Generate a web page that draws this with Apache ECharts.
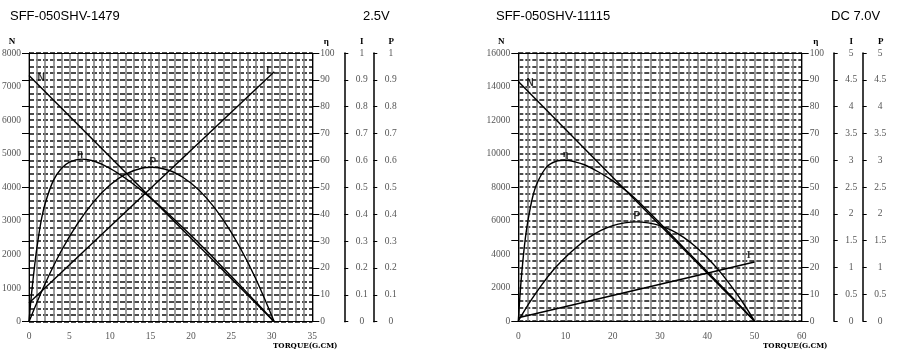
<!DOCTYPE html>
<html><head><meta charset="utf-8">
<script src="https://cdn.jsdelivr.net/npm/echarts@6/dist/echarts.min.js"></script>
<style>html,body{margin:0;padding:0;background:#fff}#c{width:900px;height:355px}</style>
</head><body><div id="c"></div>
<script>
// ---------- Left chart: SFF-050SHV-1479 @ 2.5V ----------
const leftModel = 'SFF-050SHV-1479';
const leftVoltage = '2.5V';
const leftTorqueLabels = [0, 5, 10, 15, 20, 25, 30, 35];
const leftSpeedLabels = [0, 1000, 2000, 3000, 4000, 5000, 6000, 7000, 8000];
const leftCurrentLabels = [0, 0.1, 0.2, 0.3, 0.4, 0.5, 0.6, 0.7, 0.8, 0.9, 1];
const leftPowerLabels = [0, 0.1, 0.2, 0.3, 0.4, 0.5, 0.6, 0.7, 0.8, 0.9, 1];
const leftSpeedTorque = [0, 30.3];
const leftSpeed = [7330, 0];
const leftCurrentTorque = [0, 30.3];
const leftCurrent = [0.07, 0.93];
const leftEffTorque = [0, 0.3, 0.7, 1, 1.5, 2, 3, 4, 5, 6.5, 8, 10, 12, 14, 16, 18, 20, 22, 24, 26, 28, 30.3];
const leftEff = [0, 10, 21, 28, 37.5, 44, 52.5, 57, 59.4, 60.5, 59.8, 57.1, 53.2, 48.6, 43.5, 37.9, 32.2, 26.2, 20.0, 13.8, 7.4, 0];
const leftPowerTorque = [0, 2, 4, 6, 8, 10, 12, 14, 15.2, 16, 18, 20, 22, 24, 26, 28, 30.3];
const leftPower = [0, 0.142, 0.264, 0.365, 0.447, 0.509, 0.550, 0.572, 0.575, 0.573, 0.555, 0.516, 0.458, 0.379, 0.280, 0.161, 0];

// ---------- Right chart: SFF-050SHV-11115 @ DC 7.0V ----------
const rightModel = 'SFF-050SHV-11115';
const rightVoltage = 'DC 7.0V';
const rightTorqueLabels = [0, 10, 20, 30, 40, 50, 60];
const rightSpeedLabels = [0, 2000, 4000, 6000, 8000, 10000, 12000, 14000, 16000];
const rightCurrentLabels = [0, 0.5, 1, 1.5, 2, 2.5, 3, 3.5, 4, 4.5, 5];
const rightPowerLabels = [0, 0.5, 1, 1.5, 2, 2.5, 3, 3.5, 4, 4.5, 5];
const rightSpeedTorque = [0, 50];
const rightSpeed = [14300, 0];
const rightCurrentTorque = [0, 50];
const rightCurrent = [0.06, 1.1];
const rightEffTorque = [0, 0.5, 1, 1.5, 2, 3, 4, 6, 8, 10, 12, 14, 17, 20, 23, 26, 30, 34, 38, 42, 46, 50];
const rightEff = [0, 13, 23, 31, 37, 46, 51.5, 57.5, 59.6, 60, 59.4, 58.3, 55.6, 52.3, 48.4, 43.6, 36.5, 29.2, 22.0, 14.8, 7.5, 0];
const rightPowerTorque = [0, 2.5, 5, 7.5, 10, 12.5, 15, 17.5, 20, 22.5, 25, 27.5, 30, 32.5, 35, 37.5, 40, 42.5, 45, 47.5, 50];
const rightPower = [0, 0.36, 0.68, 0.96, 1.19, 1.39, 1.56, 1.69, 1.78, 1.83, 1.85, 1.83, 1.78, 1.69, 1.56, 1.39, 1.18, 0.94, 0.66, 0.35, 0];

// shared
const effLabels = [0, 10, 20, 30, 40, 50, 60, 70, 80, 90, 100];
const xAxisTitle = 'TORQUE(G.CM)';

const SERIF = '"Liberation Serif", "DejaVu Serif", serif';
const SANS = '"Liberation Sans", Arial, sans-serif';
const zip = (a, b) => a.map((v, i) => [v, b[i]]);
const step = arr => arr[1] - arr[0];
const last = arr => arr[arr.length - 1];

const panels = [
  {
    model: leftModel, voltage: leftVoltage,
    tLabels: leftTorqueLabels, tGrid: 1,
    nLabels: leftSpeedLabels, iLabels: leftCurrentLabels, pLabels: leftPowerLabels,
    speed: zip(leftSpeedTorque, leftSpeed), current: zip(leftCurrentTorque, leftCurrent),
    eff: zip(leftEffTorque, leftEff), power: zip(leftPowerTorque, leftPower),
    tags: { N: [1.5, 7255], eta: [6.3, 62.8], P: [15.3, 0.595], I: [29.5, 0.936] },
    L: { left: 29, top: 53, width: 283.3, height: 268.7, titleX: 10, voltX: 363, axisTitleX: 273 }
  },
  {
    model: rightModel, voltage: rightVoltage,
    tLabels: rightTorqueLabels, tGrid: 2,
    nLabels: rightSpeedLabels, iLabels: rightCurrentLabels, pLabels: rightPowerLabels,
    speed: zip(rightSpeedTorque, rightSpeed), current: zip(rightCurrentTorque, rightCurrent),
    eff: zip(rightEffTorque, rightEff), power: zip(rightPowerTorque, rightPower),
    tags: { N: [2.5, 14175], eta: [10.0, 62.2], P: [25.1, 1.96], I: [48.8, 1.23] },
    L: { left: 518.3, top: 53, width: 283.4, height: 268, titleX: 496, voltX: 831, axisTitleX: 763 }
  }
];

const option = { animation: false, backgroundColor: '#fff', title: [], grid: [], xAxis: [], yAxis: [], series: [] };
const labelStyle = { color: '#555', fontFamily: SERIF, fontSize: 9.5 };
const nameStyle = (pad) => ({ color: '#000', fontFamily: SERIF, fontSize: 9, fontWeight: 'bold', padding: pad });
const plain = v => String(v);

panels.forEach((d, g) => {
  const L = d.L;
  option.grid.push({ left: L.left, top: L.top, width: L.width, height: L.height, containLabel: false, outerBoundsMode: 'none' });
  option.title.push(
    { text: d.model, left: L.titleX, top: 10, padding: 0, textStyle: { fontFamily: SANS, fontSize: 13, fontWeight: 'normal', color: '#000' } },
    { text: d.voltage, left: L.voltX, top: 10, padding: 0, textStyle: { fontFamily: SANS, fontSize: 13, fontWeight: 'normal', color: '#000' } },
    { text: xAxisTitle, left: L.axisTitleX, top: 342, padding: 0, textStyle: { fontFamily: '"DejaVu Serif Condensed", ' + SERIF, fontSize: 8, fontWeight: 'bold', color: '#000' } }
  );
  const xb = g * 2;
  option.xAxis.push(
    { gridIndex: g, type: 'value', position: 'bottom', min: 0, max: last(d.tLabels), interval: d.tGrid,
      axisLine: { show: true, onZero: false, lineStyle: { color: '#000', width: 1 } }, axisTick: { show: false },
      axisLabel: Object.assign({ margin: 10, formatter: v => d.tLabels.includes(v) ? String(v) : '' }, labelStyle),
      splitLine: { show: true, lineStyle: { color: '#858585', width: 1.6 } } },
    { gridIndex: g, type: 'value', position: 'top', min: 0, max: last(d.tLabels),
      axisLine: { show: true, onZero: false, lineStyle: { color: '#000', width: 1 } }, axisTick: { show: false },
      axisLabel: { show: false }, splitLine: { show: false } }
  );
  const yb = g * 6;
  option.yAxis.push(
    // 0: speed labels
    { gridIndex: g, type: 'value', position: 'left', min: 0, max: last(d.nLabels), interval: step(d.nLabels),
      name: 'N', nameLocation: 'end', nameGap: 7, nameTextStyle: nameStyle([0, 34, 0, 0]),
      axisLine: { show: false }, axisTick: { show: false },
      axisLabel: Object.assign({ margin: 8, formatter: plain }, labelStyle), splitLine: { show: false } },
    // 1: left frame line with ticks
    { gridIndex: g, type: 'value', position: 'left', min: 0, max: last(effLabels), interval: step(effLabels),
      axisLine: { show: true, onZero: false, lineStyle: { color: '#000', width: 1 } },
      axisTick: { show: true, length: 7, lineStyle: { color: '#000', width: 1 } },
      axisLabel: { show: false }, splitLine: { show: false } },
    // 2: horizontal dashed grid
    { gridIndex: g, type: 'value', position: 'left', min: 0, max: 100, interval: 2.5,
      axisLine: { show: false }, axisTick: { show: false }, axisLabel: { show: false },
      splitLine: { show: true, lineStyle: { color: '#111', width: 1.5, type: [5, 2] } } },
    // 3: efficiency
    { gridIndex: g, type: 'value', position: 'right', min: 0, max: last(effLabels), interval: step(effLabels),
      name: 'η', nameLocation: 'end', nameGap: 7, nameTextStyle: nameStyle([0, 0, 0, 28]),
      axisLine: { show: true, onZero: false, lineStyle: { color: '#000', width: 1 } },
      axisTick: { show: true, length: 7, lineStyle: { color: '#000', width: 1 } },
      axisLabel: Object.assign({ margin: 8, formatter: plain }, labelStyle), splitLine: { show: false } },
    // 4: current
    { gridIndex: g, type: 'value', position: 'right', offset: 32, min: 0, max: last(d.iLabels), interval: step(d.iLabels),
      name: 'I', nameLocation: 'end', nameGap: 7, nameTextStyle: nameStyle([0, 0, 0, 35]),
      axisLine: { show: true, onZero: false, lineStyle: { color: '#000', width: 1.5 } },
      axisTick: { show: true, length: 4, lineStyle: { color: '#000', width: 1 } },
      axisLabel: Object.assign({ margin: 17.5, align: 'center', formatter: plain }, labelStyle), splitLine: { show: false } },
    // 5: power
    { gridIndex: g, type: 'value', position: 'right', offset: 61, min: 0, max: last(d.pLabels), interval: step(d.pLabels),
      name: 'P', nameLocation: 'end', nameGap: 7, nameTextStyle: nameStyle([0, 0, 0, 36]),
      axisLine: { show: true, onZero: false, lineStyle: { color: '#000', width: 1.5 } },
      axisTick: { show: true, length: 4, lineStyle: { color: '#000', width: 1 } },
      axisLabel: Object.assign({ margin: 17.5, align: 'center', formatter: plain }, labelStyle), splitLine: { show: false } }
  );
  const line = (data, yi, smooth) => ({
    type: 'line', xAxisIndex: xb, yAxisIndex: yb + yi, data, symbol: 'none', silent: true, z: 5,
    smooth: smooth ? 0.35 : false, lineStyle: { color: '#000', width: 1.4 }
  });
  option.series.push(
    line(d.speed, 0, false),
    line(d.current, 4, false),
    line(d.eff, 3, true),
    line(d.power, 5, true)
  );
  const tag = (txt, pt, yi, font) => ({
    type: 'scatter', xAxisIndex: xb, yAxisIndex: yb + yi, data: [pt], symbolSize: 1, silent: true, z: 6,
    itemStyle: { color: 'rgba(0,0,0,0)' },
    label: { show: true, position: 'inside', formatter: txt, color: '#000', fontFamily: font, fontSize: 10, fontWeight: 'bold' }
  });
  option.series.push(
    tag('N', d.tags.N, 0, SANS),
    tag('η', d.tags.eta, 3, SERIF),
    tag('P', d.tags.P, 5, SANS),
    tag('I', d.tags.I, 4, SERIF)
  );
});

const chart = echarts.init(document.getElementById('c'), null, { renderer: 'canvas' });
chart.setOption(option);
</script></body></html>
